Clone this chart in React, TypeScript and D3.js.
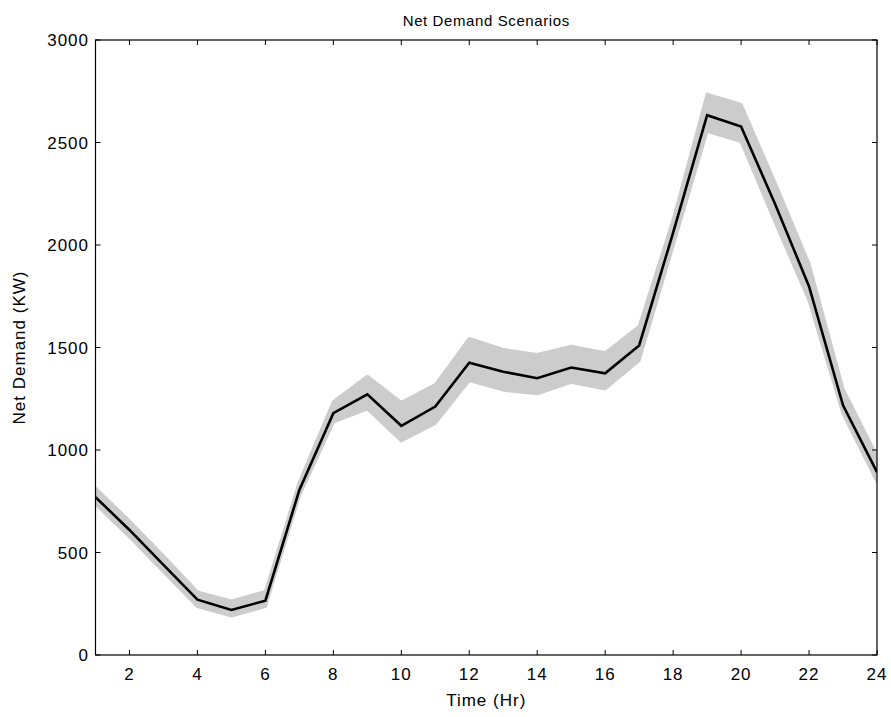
import React from "react";
import * as d3 from "d3";

const hours = [1,2,3,4,5,6,7,8,9,10,11,12,13,14,15,16,17,18,19,20,21,22,23,24];
const meanDemand = [770,610,440,270,220,265,805,1180,1272,1118,1212,1426,1382,1350,1402,1374,1510,2060,2633,2578,2200,1798,1218,892];
const upperDemand = [814,654,484,308,264,310,844,1236,1360,1232,1319,1544,1490,1466,1506,1474,1604,2124,2736,2686,2304,1909,1299,969];
const lowerDemand = [736,576,406,236,190,236,776,1136,1201,1044,1130,1339,1292,1274,1330,1298,1436,1996,2554,2504,2111,1728,1176,846];
const xTicks = [2,4,6,8,10,12,14,16,18,20,22,24];
const yTicks = [0,500,1000,1500,2000,2500,3000];

const W = 891, H = 717;
const L = 95.5, R = 877, T = 40, B = 655;

export default function App() {
  const x = d3.scaleLinear().domain([1, 24]).range([L, R]);
  const y = d3.scaleLinear().domain([0, 3000]).range([B, T]);
  const idx = hours.map((_, i) => i);
  const area = d3.area<number>()
    .x(i => x(hours[i]))
    .y0(i => y(lowerDemand[i]))
    .y1(i => y(upperDemand[i]));
  const line = d3.line<number>()
    .x(i => x(hours[i]))
    .y(i => y(meanDemand[i]));
  const font = "'Liberation Sans', Arial, Helvetica, sans-serif";
  const ts = { fontFamily: font, fontSize: 17, letterSpacing: 1, fill: "#000" } as React.CSSProperties;
  return (
    <svg width={W} height={H} style={{ position: "absolute", left: 0, top: 0, background: "#fff" }}>
      <defs>
        <clipPath id="plot">
          <rect x={L} y={T} width={R - L} height={B - T} />
        </clipPath>
      </defs>
      <rect x={0} y={0} width={W} height={H} fill="#fff" />
      <g clipPath="url(#plot)">
        <path d={area(idx) || ""} fill="#cccccc" stroke="#cccccc" strokeWidth={3} strokeLinejoin="round" />
        <path d={line(idx) || ""} fill="none" stroke="#000" strokeWidth={2.6} strokeLinejoin="miter" />
      </g>
      <rect x={L} y={T} width={R - L} height={B - T} fill="none" stroke="#000" strokeWidth={1.2} />
      {xTicks.map(t => (
        <g key={"x" + t}>
          <line x1={x(t)} x2={x(t)} y1={B} y2={B - 5} stroke="#000" strokeWidth={1} />
          <line x1={x(t)} x2={x(t)} y1={T} y2={T + 5} stroke="#000" strokeWidth={1} />
          <text x={x(t)} y={680} textAnchor="middle" style={ts}>{t}</text>
        </g>
      ))}
      {yTicks.map(t => (
        <g key={"y" + t}>
          <line x1={L} x2={L + 5} y1={y(t)} y2={y(t)} stroke="#000" strokeWidth={1} />
          <line x1={R} x2={R - 5} y1={y(t)} y2={y(t)} stroke="#000" strokeWidth={1} />
          <text x={89} y={y(t) + 6} textAnchor="end" style={ts}>{t}</text>
        </g>
      ))}
      <text x={(L + R) / 2} y={26} textAnchor="middle" style={{ ...ts, fontSize: 15, letterSpacing: 0.6 }}>Net Demand Scenarios</text>
      <text x={(L + R) / 2} y={706} textAnchor="middle" style={ts}>Time (Hr)</text>
      <text transform={`translate(25,${(T + B) / 2}) rotate(-90)`} textAnchor="middle" style={ts}>Net Demand (KW)</text>
    </svg>
  );
}
